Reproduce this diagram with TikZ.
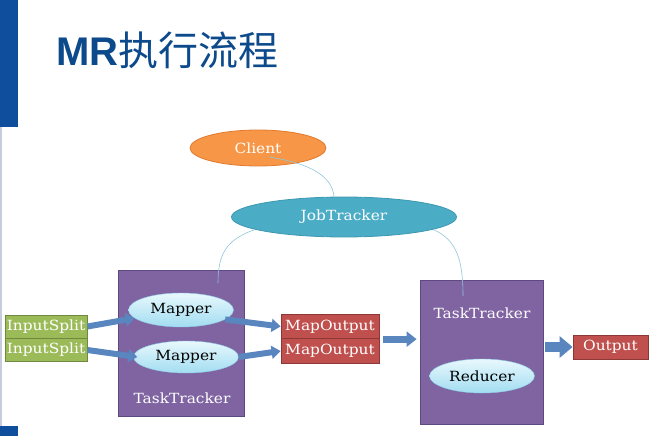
\documentclass[tikz,border=0pt]{standalone}
\usepackage{fontspec}
\newfontfamily\labelfont{DejaVu Serif}[FakeStretch=1.1]
\newfontfamily\titlefont{Liberation Sans}
\newfontfamily\cjk{Noto Sans CJK SC}
\usetikzlibrary{shapes.geometric, arrows.meta, calc}
\definecolor{barblue}{HTML}{0E4E9C}
\definecolor{titleblue}{HTML}{0D4A8C}
\definecolor{edgegray}{HTML}{C4CCDD}
\definecolor{clientorange}{HTML}{F79646}
\definecolor{clientedge}{HTML}{E07A30}
\definecolor{jobteal}{HTML}{4BACC6}
\definecolor{jobedge}{HTML}{3D98B0}
\definecolor{trackerpurple}{HTML}{8064A2}
\definecolor{trackeredge}{HTML}{5E4A80}
\definecolor{splitgreen}{HTML}{9BBB59}
\definecolor{splitedge}{HTML}{71893F}
\definecolor{outred}{HTML}{C0504D}
\definecolor{outedge}{HTML}{8C3836}
\definecolor{mappertop}{HTML}{E8F8FD}
\definecolor{mapperbottom}{HTML}{A2DDF1}
\definecolor{mapperedge}{HTML}{8CCDE6}
\definecolor{arrowblue}{HTML}{5A86C0}
\definecolor{linkblue}{HTML}{8EC6DA}

\begin{document}
\begin{tikzpicture}[x=1pt, y=-1pt, font=\labelfont\fontsize{14}{16}\selectfont,
    oval/.style={ellipse, inner sep=0pt, text=white, line width=0.8pt},
    worker/.style={ellipse, inner sep=0pt, minimum width=105pt, minimum height=34pt,
        draw=mapperedge, top color=mappertop, bottom color=mapperbottom, text=black},
    block/.style={rectangle, inner sep=0pt, text=white, line width=0.8pt},
    tracker/.style={rectangle, fill=trackerpurple, draw=trackeredge, line width=0.8pt},
    push/.style={draw=arrowblue, line width=6pt, -{Triangle[width=13pt, length=9pt]}},
    link/.style={draw=linkblue, line width=0.6pt}]
    \useasboundingbox (0,0) rectangle (651,436);
    \fill[barblue] (0,0) rectangle (18,127);
    \fill[barblue] (0,426) rectangle (18,436);
    \draw[edgegray, line width=1.5pt] (1,127) -- (1,426);
    \node[anchor=base west, inner sep=0pt, text=titleblue] (title) at (56,66)
        {\fontsize{40}{40}\selectfont{\titlefont\bfseries MR}{\cjk 执行流程}};

    \node[oval, fill=clientorange, draw=clientedge, minimum width=136pt, minimum height=36pt] (client) at (258,148) {Client};
    \node[oval, fill=jobteal, draw=jobedge, minimum width=225pt, minimum height=40pt] (jobtracker) at (344,217) {JobTracker};

    \node[tracker, minimum width=126pt, minimum height=146pt] (tt1) at (181,343) {};
    \node[tracker, minimum width=123pt, minimum height=144pt] (tt2) at (481.5,352) {};
    \node[text=white] (tt1label) at (182,398) {TaskTracker};
    \node[text=white] (tt2label) at (482,313) {TaskTracker};

    \node[worker] (mapper1) at (181,310) {Mapper};
    \node[worker, minimum height=32pt] (mapper2) at (186,357) {Mapper};
    \node[worker] (reducer) at (482,376) {Reducer};

    \node[block, fill=splitgreen, draw=splitedge, minimum width=82pt, minimum height=23pt] (split1) at (46,326.5) {InputSplit};
    \node[block, fill=splitgreen, draw=splitedge, minimum width=82pt, minimum height=23pt] (split2) at (46,350) {InputSplit};
    \node[block, fill=outred, draw=outedge, minimum width=98pt, minimum height=24.5pt] (mo1) at (330,326.5) {MapOutput};
    \node[block, fill=outred, draw=outedge, minimum width=98pt, minimum height=24.5pt] (mo2) at (330,351) {MapOutput};
    \node[block, fill=outred, draw=outedge, minimum width=75pt, minimum height=24pt] (output) at (610.5,347) {Output};

    \coordinate (tt1top) at (218,283);
    \coordinate (tt2top) at (463,296);
    \draw[link] ([shift={(11,9)}]client.center) .. controls +(38,6) and +(-2,-22) .. ([xshift=-10pt]jobtracker.north);
    \draw[link] (jobtracker.188) .. controls +(-28,10) and +(0,-30) .. (tt1top);
    \draw[link] (jobtracker.-8) .. controls +(24,10) and +(0,-35) .. (tt2top);

    \draw[push] (split1.east) -- (mapper1.190);
    \draw[push] (split2.east) -- ([xshift=4pt]mapper2.west);
    \draw[push] (mapper1.-12) -- (mo1.west);
    \draw[push] (mapper2.east) -- (mo2.west);
    \draw[push, line width=7pt, -{Triangle[width=15pt, length=10pt]}] ($(mo1.south east)+(4,0)$) -- ($(tt2.west |- mo1.south)+(-3,0)$);
    \draw[push, line width=10pt, -{Triangle[width=21pt, length=13pt]}] ($(tt2.east |- output.west)+(2,0)$) -- (output.west);
\end{tikzpicture}
\end{document}
